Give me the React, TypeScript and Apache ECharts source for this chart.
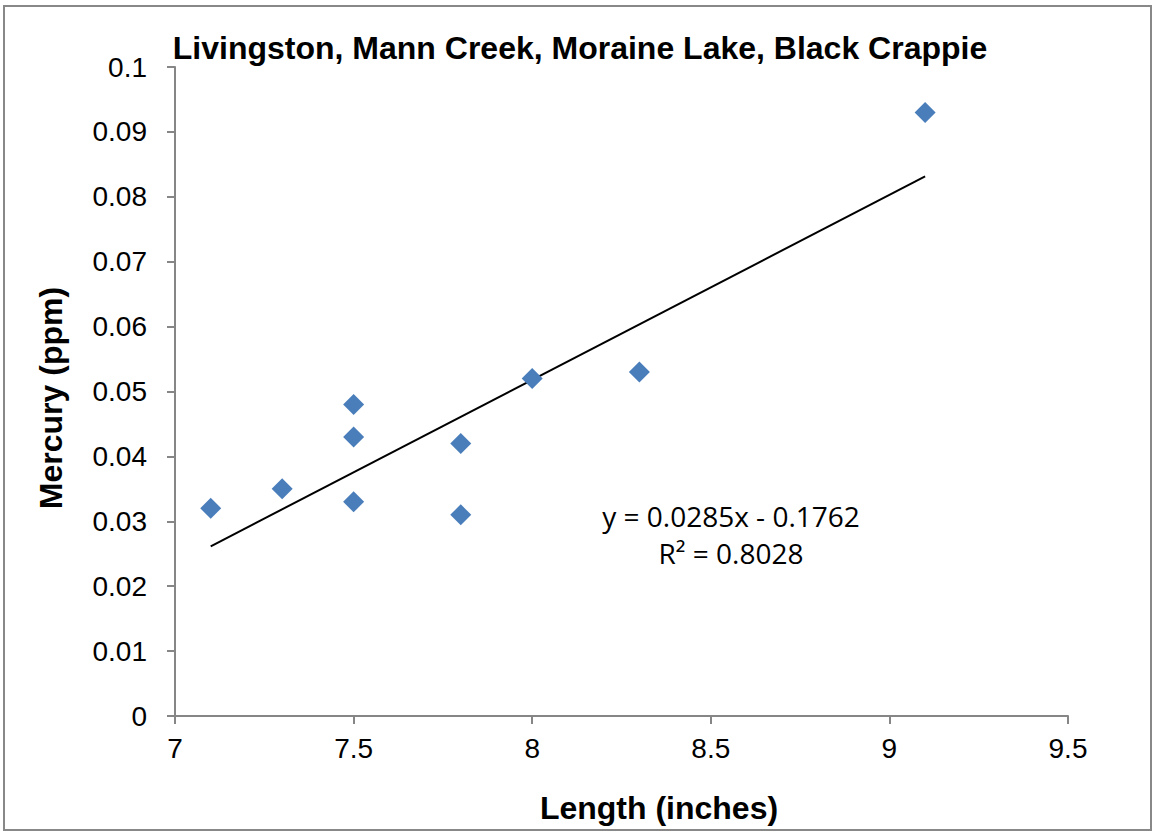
import React, { useEffect, useRef } from "react";
import * as echarts from "echarts";

const lengths = [7.1, 7.3, 7.5, 7.5, 7.5, 7.8, 7.8, 8.0, 8.3, 9.1];
const mercury = [0.032, 0.035, 0.048, 0.043, 0.033, 0.042, 0.031, 0.052, 0.053, 0.093];
const trendSlope = 0.0285;
const trendIntercept = -0.1762;
const trendRange = [7.1, 9.1];
const equationText = "y = 0.0285x - 0.1762";
const r2Text = "R² = 0.8028";
const titleText = "Livingston, Mann Creek, Moraine Lake, Black Crappie";
const xAxisTitle = "Length (inches)";
const yAxisTitle = "Mercury (ppm)";

export default function App() {
  const ref = useRef<HTMLDivElement>(null);
  useEffect(() => {
    if (!ref.current) return;
    const chart = echarts.init(ref.current, undefined, { renderer: "svg" });
    const axisColor = "#868686";
    const font = "Liberation Sans, Arial, sans-serif";
    const nameStyle = { fontFamily: font, fontWeight: "bold", fontSize: 32, fill: "#000", align: "center", verticalAlign: "middle" };
    chart.setOption({
      animation: false,
      backgroundColor: "#fff",
      title: {
        text: titleText,
        left: 575,
        textAlign: "center",
        top: 27,
        textStyle: { fontFamily: font, fontWeight: "bold", fontSize: 32, color: "#000" },
      },
      grid: { left: 175, right: 88, top: 67, bottom: 117 },
      xAxis: {
        type: "value",
        min: 7,
        max: 9.5,
        interval: 0.5,
        axisLine: { show: true, lineStyle: { color: axisColor, width: 2 } },
        axisTick: { show: true, length: 8, lineStyle: { color: axisColor, width: 2 } },
        axisLabel: { fontFamily: font, fontSize: 28, color: "#000", margin: 18 },
        splitLine: { show: false },
      },
      yAxis: {
        type: "value",
        min: 0,
        max: 0.1,
        interval: 0.01,
        axisLine: { show: true, lineStyle: { color: axisColor, width: 2 } },
        axisTick: { show: true, length: 8, lineStyle: { color: axisColor, width: 2 } },
        axisLabel: {
          fontFamily: font,
          fontSize: 28,
          color: "#000",
          margin: 28,
          formatter: (v: number) => String(parseFloat(v.toFixed(3))),
        },
        splitLine: { show: false },
      },
      graphic: [
        {
          type: "rect",
          shape: { x: 4, y: 6, width: 1147, height: 824 },
          style: { fill: "none", stroke: "#888", lineWidth: 2 },
          silent: true,
        },
        {
          type: "text",
          x: 659,
          y: 808,
          style: { text: xAxisTitle, ...nameStyle },
        },
        {
          type: "text",
          x: 51,
          y: 398,
          rotation: Math.PI / 2,
          style: { text: yAxisTitle, ...nameStyle },
        },
        {
          type: "text",
          x: 731,
          y: 516,
          style: {
            text: equationText,
            fontFamily: "Open Sans, sans-serif",
            fontSize: 28,
            fill: "#000",
            align: "center",
            verticalAlign: "middle",
          },
        },
        {
          type: "text",
          x: 731,
          y: 553,
          style: {
            text: r2Text,
            fontFamily: "Open Sans, sans-serif",
            fontSize: 28,
            fill: "#000",
            align: "center",
            verticalAlign: "middle",
          },
        },
      ],
      series: [
        {
          type: "line",
          data: trendRange.map((x) => [x, trendSlope * x + trendIntercept]),
          symbol: "none",
          lineStyle: { color: "#000", width: 2 },
          z: 1,
        },
        {
          type: "scatter",
          data: lengths.map((x, i) => [x, mercury[i]]),
          symbol: "diamond",
          symbolSize: [21, 21],
          itemStyle: { color: "#4a7ebb", opacity: 1 },
          z: 2,
        },
      ],
    });
    return () => chart.dispose();
  }, []);
  return <div ref={ref} style={{ width: 1156, height: 833, position: "absolute", left: 0, top: 0 }} />;
}
